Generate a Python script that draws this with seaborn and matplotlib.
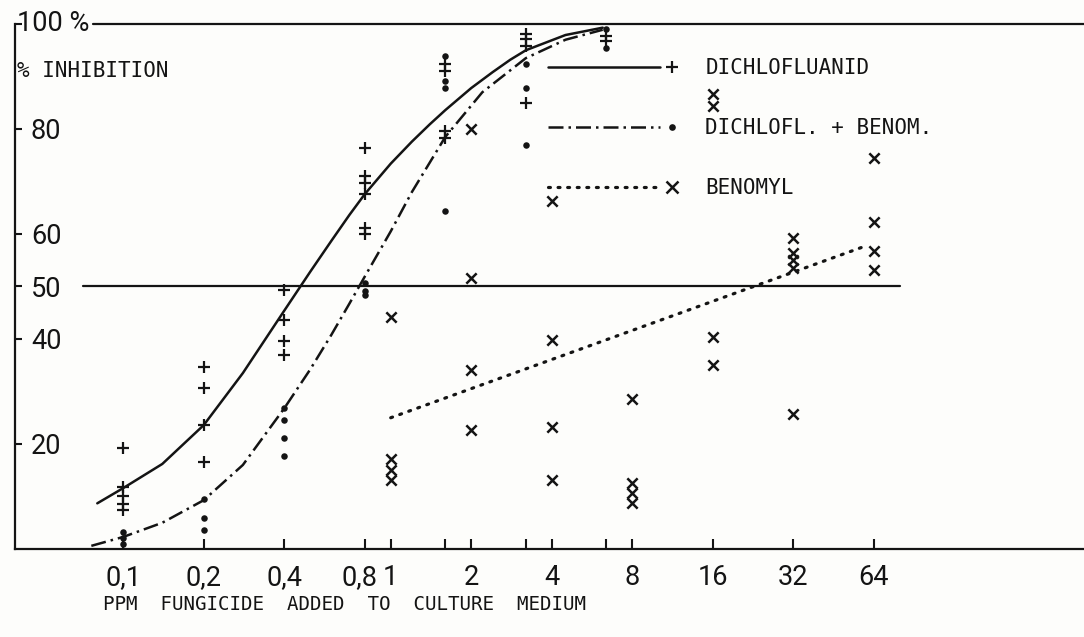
import numpy as np
import pandas as pd
import matplotlib
matplotlib.use("Agg")
import matplotlib.pyplot as plt
import matplotlib.transforms as mtransforms
import seaborn as sns
from matplotlib.lines import Line2D
from matplotlib.legend_handler import HandlerLine2D
from matplotlib.ticker import FixedLocator, FixedFormatter

# ---------------- data ----------------
dichlo_doses = [0.1, 0.2, 0.4, 0.8, 1.6, 3.2, 6.4]
dichlo_values = [
    [19.2, 11.8, 10.0, 8.6, 7.4],
    [34.6, 30.6, 23.6, 16.5],
    [49.4, 43.7, 39.7, 36.9],
    [76.4, 71.0, 69.8, 67.7, 61.2, 60.0],
    [92.4, 91.1, 79.7, 78.3],
    [98.1, 97.1, 95.8, 85.0],
    [97.7, 96.8],
]
mix_values = [
    [3.2, 2.0, 1.0],
    [9.5, 5.9, 3.6],
    [26.8, 24.5, 21.1, 17.7],
    [50.6, 49.2, 48.3],
    [93.9, 89.2, 87.8, 64.4],
    [92.4, 87.8, 77.0],
    [99.0, 95.5],
]
benomyl_doses = [1, 2, 4, 8, 16, 32, 64]
benomyl_values = [
    [44.1, 17.1, 15.0, 13.1],
    [80.0, 51.7, 34.0, 22.6],
    [66.3, 39.9, 23.2, 13.1],
    [28.5, 12.5, 10.6, 8.7],
    [86.7, 84.4, 40.3, 35.0],
    [59.3, 56.3, 55.0, 53.6, 25.7],
    [74.5, 62.2, 56.8, 53.2],
]

# fitted curves as drawn in the reference
dichlo_curve_x = [0.08, 0.1, 0.14, 0.2, 0.28, 0.4, 0.5, 0.6, 0.7, 0.8, 1.0, 1.2, 1.4, 1.6,
                  2.0, 2.4, 2.8, 3.2, 4.5, 6.2]
dichlo_curve_y = [8.7, 11.6, 16.2, 23.6, 33.5, 45.4, 52.8, 58.7, 63.6, 67.6, 73.4, 77.6, 80.9, 83.6,
                  87.8, 90.8, 93.2, 95.0, 97.9, 99.3]
mix_curve_x = [0.076, 0.1, 0.14, 0.2, 0.28, 0.4, 0.5, 0.6, 0.7, 0.8, 1.0, 1.2, 1.6, 2.2, 3.2, 4.5, 6.2]
mix_curve_y = [0.6, 2.3, 5.0, 9.3, 16.0, 26.8, 34.2, 40.8, 46.7, 51.9, 60.5, 68.0, 78.5, 87.0, 93.5, 97.0, 98.9]
benomyl_line_x = [1, 58]
benomyl_line_y = [25.0, 57.5]

series_labels = ["DICHLOFLUANID", "DICHLOFL. + BENOM.", "BENOMYL"]
xtick_values = [0.1, 0.2, 0.4, 0.8, 1, 2, 4, 8, 16, 32, 64]
xtick_labels = ["0,1", "0,2", "0,4", "0,8", "1", "2", "4", "8", "16", "32", "64"]
xtick_minor = [1.6, 3.2, 6.4]
ytick_values = [20, 40, 50, 60, 80, 100]
ytick_labels = ["20", "40", "50", "60", "80", ""]
ref_levels = [50, 100]
y_title = "% INHIBITION"
x_title = "PPM  FUNGICIDE  ADDED  TO  CULTURE  MEDIUM"

# ---------------- style ----------------
sns.set_theme(style="white")
MONO = ["DejaVu Sans Mono"]
NUM = ["Roboto", "DejaVu Sans"]
plt.rcParams["font.family"] = MONO
INK = "#141414"
BG = "#fdfdfb"
NUMSIZE = 19.5

W, H = 1084, 637
fig = plt.figure(figsize=(W / 100, H / 100), dpi=100, facecolor=BG)
ax_left, ax_bottom_px = 15, 549
ax = fig.add_axes([ax_left / W, (H - ax_bottom_px) / H, (W - ax_left) / W, ax_bottom_px / H])
ax.set_facecolor(BG)


def long_df(doses, values):
    rows = [(d, v) for d, vs in zip(doses, values) for v in vs]
    return pd.DataFrame(rows, columns=["dose", "inhibition"])


df_dichlo = long_df(dichlo_doses, dichlo_values)
df_mix = long_df(dichlo_doses, mix_values)
df_ben = long_df(benomyl_doses, benomyl_values)

LW = 1.8
DASHDOT = (0, (6, 2, 1, 2))
DOTTED = (0, (0.6, 2.4))

ax.set_xscale("log", base=2)

sns.lineplot(x=dichlo_curve_x, y=dichlo_curve_y, ax=ax, color=INK, lw=LW,
             sort=False, estimator=None, zorder=2)
sns.lineplot(x=mix_curve_x, y=mix_curve_y, ax=ax, color=INK, lw=LW,
             linestyle=DASHDOT, sort=False, estimator=None, zorder=2)
sns.lineplot(x=benomyl_line_x, y=benomyl_line_y, ax=ax, color=INK, lw=2.3,
             linestyle=DOTTED, dash_capstyle="round", sort=False, estimator=None, zorder=2)

sns.scatterplot(data=df_dichlo, x="dose", y="inhibition", ax=ax, marker="+",
                s=80, color=INK, linewidth=1.6, legend=False, zorder=3)
sns.scatterplot(data=df_mix, x="dose", y="inhibition", ax=ax, marker="o",
                s=22, color=INK, edgecolor=INK, linewidth=0, legend=False, zorder=3)
sns.scatterplot(data=df_ben, x="dose", y="inhibition", ax=ax, marker="x",
                s=55, color=INK, linewidth=1.8, legend=False, zorder=3)
ax.set_xlabel("")
ax.set_ylabel("")

# reference lines at 50 % and 100 %
ax.axhline(ref_levels[0], xmin=(83 - ax_left) / (W - ax_left), xmax=(900 - ax_left) / (W - ax_left),
           color=INK, lw=1.6, zorder=1)
ax.axhline(ref_levels[1], xmin=(93 - ax_left) / (W - ax_left), xmax=1.0,
           color=INK, lw=1.6, zorder=1)

# limits (axes fill the scanned frame)
ax.set_xlim(0.0394, 390.4)
ax.set_ylim(0, 104.57)

# spines
for side in ["top", "right"]:
    ax.spines[side].set_visible(False)
for side in ["left", "bottom"]:
    ax.spines[side].set_color(INK)
    ax.spines[side].set_linewidth(1.6)
ax.spines["left"].set_bounds(0, 100)

# x ticks
ax.xaxis.set_major_locator(FixedLocator(xtick_values))
ax.xaxis.set_major_formatter(FixedFormatter(xtick_labels))
ax.xaxis.set_minor_locator(FixedLocator(xtick_minor))
ax.xaxis.set_minor_formatter(FixedFormatter([""] * len(xtick_minor)))
ax.tick_params(axis="x", which="both", direction="in", length=7, width=1.5,
               color=INK, pad=11, bottom=True)
for lbl in ax.get_xticklabels():
    lbl.set_fontfamily(NUM)
    lbl.set_fontsize(NUMSIZE)
    lbl.set_color(INK)
    if lbl.get_text() == "0,8":
        lbl.set_transform(lbl.get_transform() +
                          mtransforms.ScaledTranslation(-5 / 100, 0, fig.dpi_scale_trans))

# y ticks (labels inside the frame)
ax.yaxis.set_major_locator(FixedLocator(ytick_values))
ax.yaxis.set_major_formatter(FixedFormatter(ytick_labels))
ax.tick_params(axis="y", direction="in", length=5, width=1.5, color=INK, pad=-11.5, left=True)
for lbl in ax.get_yticklabels():
    lbl.set_horizontalalignment("left")
    lbl.set_fontfamily(NUM)
    lbl.set_fontsize(NUMSIZE)
    lbl.set_color(INK)

blend = mtransforms.blended_transform_factory(ax.transAxes, ax.transData)
ax.text(0.002, ytick_values[-1], "100 %", transform=blend, ha="left", va="center",
        fontsize=NUMSIZE, family=NUM, color=INK)
ax.text(0.002, 91, y_title, transform=blend, ha="left", va="center",
        fontsize=15, family=MONO, color=INK)

fig.text(103 / W, 1 - 604 / H, x_title, ha="left", va="center",
         fontsize=13.8, family=MONO, color=INK)


# legend with the marker at the right end of the line
class EndMarkerHandler(HandlerLine2D):
    def create_artists(self, legend, orig_handle, xdescent, ydescent,
                       width, height, fontsize, trans):
        y = (height - ydescent) / 2
        line = Line2D([-xdescent, -xdescent + 0.9 * width], [y, y])
        self.update_prop(line, orig_handle, legend)
        line.set_marker("None")
        mark = Line2D([-xdescent + width], [y])
        self.update_prop(mark, orig_handle, legend)
        mark.set_linestyle("None")
        line.set_transform(trans)
        mark.set_transform(trans)
        return [line, mark]


handles = [
    Line2D([], [], color=INK, lw=LW, marker="+", ms=9, mew=1.6),
    Line2D([], [], color=INK, lw=LW, linestyle=DASHDOT, marker="o", ms=4.8, mew=0),
    Line2D([], [], color=INK, lw=2.3, linestyle=DOTTED, dash_capstyle="round",
           marker="x", ms=8, mew=1.8),
]
leg = ax.legend(handles, series_labels, handler_map={Line2D: EndMarkerHandler()},
                loc="upper left", bbox_to_anchor=((548 - ax_left) / (W - ax_left), (549 - 58) / 549),
                frameon=False, borderpad=0, borderaxespad=0, fontsize=15,
                handlelength=5.95, handletextpad=1.6, labelspacing=1.92)
for t in leg.get_texts():
    t.set_color(INK)
    t.set_family(MONO)

fig.savefig("out.png", dpi=100, facecolor=BG)
